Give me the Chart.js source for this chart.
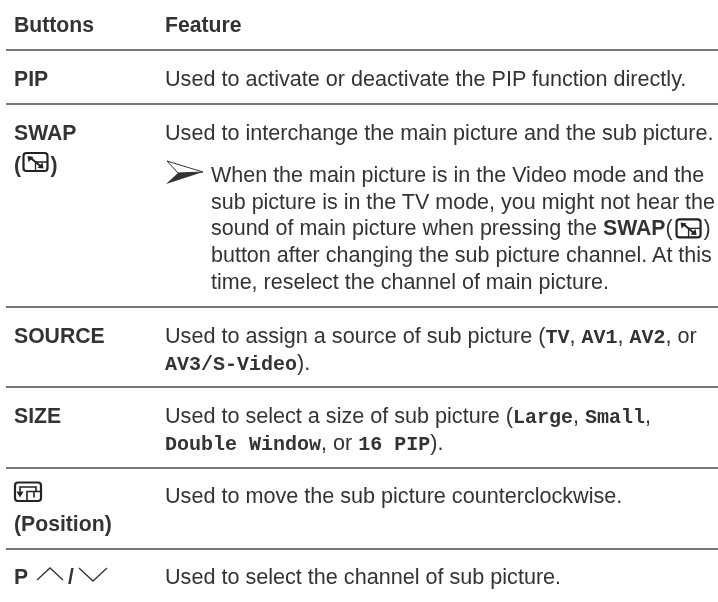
<!DOCTYPE html>
<html><head><meta charset="utf-8">
<style>html,body{margin:0;padding:0;background:#fff}canvas{display:block}</style>
<script src="https://cdn.jsdelivr.net/npm/chart.js@4"></script>
</head><body><canvas id="c" width="718" height="602"></canvas>
<script>
// Table content (** = bold sans, ` = bold mono, {swap} = inline icon)
const headers = ["Buttons", "Feature"];
const buttonLabels = ["PIP", "SWAP", "(", "SOURCE", "SIZE", "(Position)", "P", "/"];
const featureLines = [
  "Used to activate or deactivate the PIP function directly.",
  "Used to interchange the main picture and the sub picture.",
  "Used to assign a source of sub picture (`TV`, `AV1`, `AV2`, or",
  "`AV3/S-Video`).",
  "Used to select a size of sub picture (`Large`, `Small`,",
  "`Double Window`, or `16 PIP`).",
  "Used to move the sub picture counterclockwise.",
  "Used to select the channel of sub picture."
];
const noteLines = [
  "When the main picture is in the Video mode and the",
  "sub picture is in the TV mode, you might not hear the",
  "sound of main picture when pressing the **SWAP**({swap})",
  "button after changing the sub picture channel. At this",
  "time, reselect the channel of main picture."
];
// Rows of the table on a 0-602 vertical scale
const ruleRows = [50, 104, 307, 387, 468, 549];
const headerRow = 32;
const buttonRows = [86, 140, 172, 343, 423, 531, 584, 584];
const featureRows = [86, 140, 343, 370, 423, 450, 503, 584];
const noteRows = [182, 208.7, 235.4, 262, 289];

const C = '#333';
const SANS = '"Liberation Sans"', MONO = '"Liberation Mono"';
const FS = 21.6, NS = 21.5, BS = 21.2, MS = 20;
const tablePlugin = {
  id: 'table',
  afterDatasetsDraw(chart) {
    const ctx = chart.ctx, X = chart.scales.x, Y = chart.scales.y;
    const px = v => X.getPixelForValue(v), py = v => Y.getPixelForValue(v);
    ctx.save();
    ctx.fillStyle = C; ctx.strokeStyle = C; ctx.textBaseline = 'alphabetic'; ctx.textAlign = 'left';
    ctx.fontKerning = 'normal';
    const put = (s, x, y, font) => { ctx.font = font; ctx.fillText(s, x, y); return x + ctx.measureText(s).width; };
    const swapIcon = (x, y) => { // x,y = top-left, 26x20
      ctx.save(); ctx.strokeStyle = '#222'; ctx.fillStyle = '#222';
      ctx.lineWidth = 2.2; ctx.beginPath(); ctx.roundRect(x + 1, y + 1, 24, 18, 3); ctx.stroke();
      ctx.lineWidth = 1.3; ctx.beginPath(); ctx.moveTo(x + 13, y + 10); ctx.lineTo(x + 25, y + 10); ctx.moveTo(x + 13, y + 10); ctx.lineTo(x + 13, y + 19); ctx.stroke();
      ctx.lineWidth = 2; ctx.beginPath(); ctx.moveTo(x + 7, y + 5); ctx.lineTo(x + 19, y + 15); ctx.stroke();
      ctx.beginPath(); ctx.moveTo(x + 5, y + 4); ctx.lineTo(x + 11, y + 5); ctx.lineTo(x + 6, y + 10); ctx.closePath();
      ctx.moveTo(x + 21, y + 16.5); ctx.lineTo(x + 15, y + 16); ctx.lineTo(x + 20, y + 10.5); ctx.closePath(); ctx.fill();
      ctx.restore();
    };
    const partsOf = line => line.split(/(\*\*.*?\*\*|`.*?`|\{swap\})/).filter(Boolean);
    const fontOf = (p, size) => p.startsWith('**') ? `bold ${BS}px ${SANS}` : p.startsWith('`') ? `bold ${MS}px ${MONO}` : `${size}px ${SANS}`;
    const textOf = p => p.startsWith('**') ? p.slice(2, -2) : p.startsWith('`') ? p.slice(1, -1) : p;
    const rich = (line, x, y, size) => {
      for (const p of partsOf(line)) {
        if (p === '{swap}') { swapIcon(x + 3, y - 17); x += 31; }
        else x = put(textOf(p), x, y, fontOf(p, size));
      }
    };
    const bold = `bold ${BS}px ${SANS}`;
    put(headers[0], px(14), py(headerRow), bold);
    put(headers[1], px(165), py(headerRow), bold);
    const bx = [14, 14, 14, 14, 14, 14, 14, 68];
    buttonLabels.forEach((s, i) => put(s, px(bx[i]), py(buttonRows[i]), bold));
    // "(" icon ")"
    swapIcon(px(22.5), py(152));
    put(')', px(50.5), py(buttonRows[2]), bold);
    // position icon
    { const x = px(14), y = py(481.5);
      ctx.strokeStyle = '#222'; ctx.fillStyle = '#222';
      ctx.lineWidth = 2.2; ctx.beginPath(); ctx.roundRect(x + 1, y + 1, 26, 18.5, 3); ctx.stroke();
      ctx.lineWidth = 1.6; ctx.beginPath(); ctx.moveTo(x + 6, y + 10); ctx.lineTo(x + 6, y + 5.5); ctx.lineTo(x + 22, y + 5.5); ctx.lineTo(x + 22, y + 10);
      ctx.moveTo(x + 13, y + 19); ctx.lineTo(x + 13, y + 10); ctx.lineTo(x + 27, y + 10);
      ctx.moveTo(x + 20, y + 10); ctx.lineTo(x + 20, y + 16); ctx.stroke();
      ctx.beginPath(); ctx.moveTo(x + 2.5, y + 10); ctx.lineTo(x + 9.5, y + 10); ctx.lineTo(x + 6, y + 16); ctx.closePath(); ctx.fill();
      ctx.strokeStyle = C; ctx.fillStyle = C;
    }
    // P chevrons
    ctx.lineWidth = 1.3; ctx.beginPath();
    ctx.moveTo(px(37), py(580)); ctx.lineTo(px(50), py(568)); ctx.lineTo(px(63), py(580));
    ctx.moveTo(px(79), py(568)); ctx.lineTo(px(93), py(581)); ctx.lineTo(px(107), py(568)); ctx.stroke();
    featureLines.forEach((s, i) => rich(s, px(165), py(featureRows[i]), FS));
    noteLines.forEach((s, i) => rich(s, px(211), py(noteRows[i]), NS));
    // note arrow
    ctx.lineWidth = 1; ctx.beginPath(); ctx.moveTo(px(167), py(161)); ctx.lineTo(px(203), py(172)); ctx.lineTo(px(178), py(173)); ctx.closePath(); ctx.stroke();
    ctx.beginPath(); ctx.moveTo(px(178), py(173)); ctx.lineTo(px(203), py(172)); ctx.lineTo(px(166), py(184)); ctx.closePath(); ctx.fill();
    ctx.restore();
  }
};
new Chart(document.getElementById('c'), {
  type: 'scatter',
  data: { datasets: ruleRows.map(r => ({
    data: [{x: 6, y: r}, {x: 718, y: r}], showLine: true, pointRadius: 0,
    borderColor: '#4a4a4a', borderWidth: 1.4
  })) },
  options: {
    responsive: false, animation: false, events: [],
    layout: { padding: 0 },
    plugins: { legend: { display: false }, tooltip: { enabled: false }, title: { display: false } },
    scales: {
      x: { type: 'linear', display: false, min: 0, max: 718 },
      y: { type: 'linear', display: false, min: 0, max: 602, reverse: true }
    }
  },
  plugins: [tablePlugin]
});
</script></body></html>
